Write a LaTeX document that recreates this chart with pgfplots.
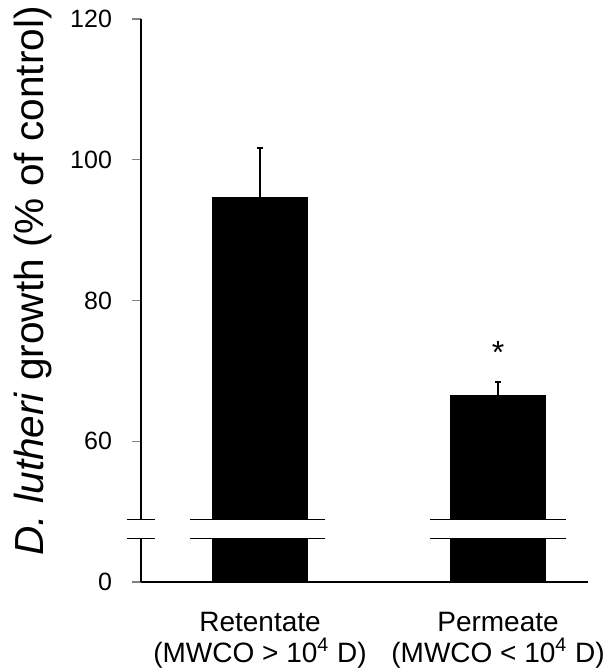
\documentclass[border=0pt]{standalone}
\usepackage{pgfplots}
\pgfplotsset{compat=1.18}
\usepackage{fontspec}
\setmainfont{Liberation Sans}

% broken y axis: values >= 30 are shifted down by 40
\pgfplotstableread{
x  y     err
0  94.7  6.9
1  66.5  1.9
}\bars

\begin{document}
\begin{tikzpicture}
\begin{axis}[
  name=ax,
  scale only axis,
  width=223.5pt, height=281.5pt,
  xmin=-0.5, xmax=1.378,
  ymin=0, ymax=120,
  y coord trafo/.code={\pgfmathparse{ifthenelse(#1<30,#1,#1-40)}},
  axis lines=left,
  axis line style={-, line width=0.6pt},
  clip=false,
  xtick=data,
  xticklabels={Retentate\\(MWCO > 10\textsuperscript{4} D),Permeate\\(MWCO < 10\textsuperscript{4} D)},
  xticklabel style={align=center, font=\fontsize{14}{15.5}\selectfont, yshift=-7pt},
  major x tick style={draw=none},
  ytick={0,60,80,100,120},
  yticklabels={0,60,80,100,120},
  yticklabel style={font=\fontsize{12.5}{14}\selectfont, xshift=-6.5pt},
  tick align=outside,
  major tick length=4.5pt,
  ytick style={line width=0.6pt},
  ylabel={\textit{D. lutheri} growth (\% of control)},
  every axis y label/.style={at={(rel axis cs:0,0.535)}, xshift=-54pt, rotate=90, anchor=center,
    font=\fontsize{20.3}{24}\selectfont},
  /pgf/number format/assume math mode=true,
]
\addplot[ybar, bar width=0.4, fill=black, draw=black,
  error bars/.cd, y dir=plus, y explicit,
  error bar style={line width=1pt},
  error mark options={rotate=90, mark size=1.3pt, line width=1pt}]
  table[x=x, y=y, y error=err] {\bars};
% axis break
\fill[white] (rel axis cs:-0.04,0.0778) rectangle (rel axis cs:1.0,0.1113);
\draw[line width=0.6pt] (rel axis cs:-0.031,0.0778) -- (rel axis cs:0.031,0.0778);
\draw[line width=0.6pt] (rel axis cs:0.1096,0.0778) -- (rel axis cs:0.4116,0.0778);
\draw[line width=0.6pt] (rel axis cs:0.6465,0.0778) -- (rel axis cs:0.9508,0.0778);
\draw[line width=0.6pt] (rel axis cs:-0.031,0.1113) -- (rel axis cs:0.031,0.1113);
\draw[line width=0.6pt] (rel axis cs:0.1096,0.1113) -- (rel axis cs:0.4116,0.1113);
\draw[line width=0.6pt] (rel axis cs:0.6465,0.1113) -- (rel axis cs:0.9508,0.1113);
\node[font=\fontsize{16}{16}\selectfont] at (axis cs:1,72.6) {*};
\end{axis}
\pgfresetboundingbox
\useasboundingbox ([shift={(-70.5pt,-44pt)}]ax.south west) rectangle ([shift={(8.5pt,9.5pt)}]ax.north east);
\end{tikzpicture}
\end{document}
